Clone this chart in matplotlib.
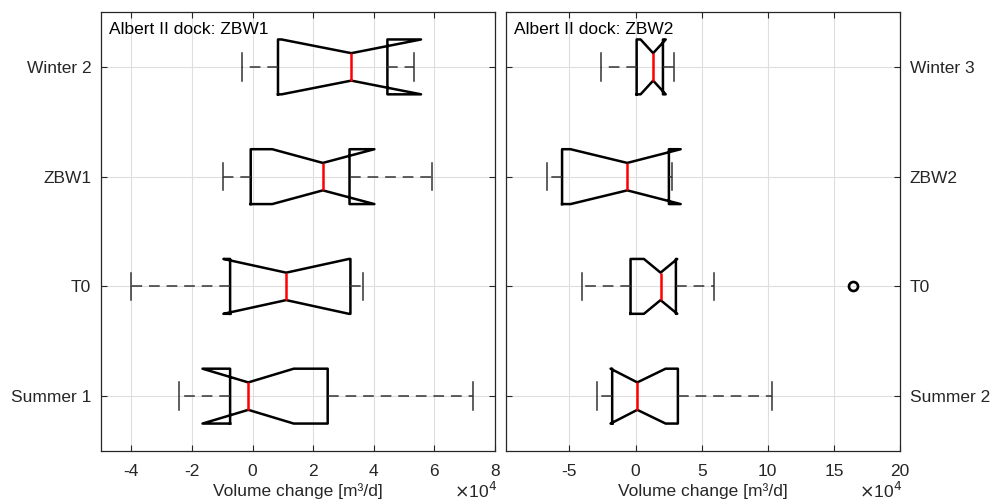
import matplotlib.pyplot as plt

plt.rcParams['font.family'] = ['Liberation Sans', 'DejaVu Sans']

# left panel - Albert II dock: ZBW1 (values in 1e4 m3/d)
labels_1 = ["Summer 1", "T0", "ZBW1", "Winter 2"]
whislo_1 = [-2.41, -4.0, -0.98, -0.36]
q1_1 = [-0.74, -0.74, -0.06, 0.84]
med_1 = [-0.14, 1.11, 2.32, 3.26]
q3_1 = [2.48, 3.23, 3.20, 4.45]
whishi_1 = [7.26, 3.66, 5.93, 5.32]
cilo_1 = [-1.65, -0.96, 0.65, 0.96]
cihi_1 = [1.36, 3.18, 4.02, 5.56]
fliers_1 = [[], [], [], []]

# right panel - Albert II dock: ZBW2
labels_2 = ["Summer 2", "T0", "ZBW2", "Winter 3"]
whislo_2 = [-2.91, -4.04, -6.69, -2.6]
q1_2 = [-1.77, -0.38, -5.56, 0.08]
med_2 = [0.13, 1.89, -0.63, 1.33]
q3_2 = [3.2, 3.05, 2.52, 2.07]
whishi_2 = [10.3, 5.93, 2.77, 2.9]
cilo_2 = [-1.89, 0.63, -4.92, 0.38]
cihi_2 = [2.27, 3.15, 3.41, 2.28]
fliers_2 = [[], [16.46], [], []]


def make_stats(lo, q1, med, q3, hi, cilo, cihi, fl):
    return [dict(whislo=a, q1=b, med=c, q3=d, whishi=e, cilo=f, cihi=g, fliers=h)
            for a, b, c, d, e, f, g, h in zip(lo, q1, med, q3, hi, cilo, cihi, fl)]


grid_c = "#dedede"
txt_c = "#262626"
fs = 12.5

fig = plt.figure(figsize=(10.03, 5.01), dpi=100)
ax1 = fig.add_axes([0.1007, 0.0998, 0.3928, 0.8762])
ax2 = fig.add_axes([0.5045, 0.0998, 0.3928, 0.8762])

panels = [
    (ax1, make_stats(whislo_1, q1_1, med_1, q3_1, whishi_1, cilo_1, cihi_1, fliers_1),
     labels_1, "Albert II dock: ZBW1", (-5, 8), [-4, -2, 0, 2, 4, 6, 8]),
    (ax2, make_stats(whislo_2, q1_2, med_2, q3_2, whishi_2, cilo_2, cihi_2, fliers_2),
     labels_2, "Albert II dock: ZBW2", (-9.8, 20), [-5, 0, 5, 10, 15, 20]),
]

for ax, stats, labels, title, xlim, xticks in panels:
    ax.bxp(stats, positions=[1, 2, 3, 4], widths=0.5, orientation='horizontal',
           shownotches=True, showfliers=True,
           boxprops=dict(color='black', linewidth=1.8),
           medianprops=dict(color='#ff0000', linewidth=1.8),
           whiskerprops=dict(color='#333333', linewidth=1.1, linestyle=(0, (7, 4.5))),
           capprops=dict(color='#333333', linewidth=1.1),
           flierprops=dict(marker='o', markerfacecolor='none', markeredgecolor='black',
                           markersize=6.5, markeredgewidth=1.9))
    ax.set_xlim(*xlim)
    ax.set_ylim(0.5, 4.5)
    ax.set_xticks(xticks)
    ax.set_xticklabels([str(t) for t in xticks])
    ax.set_yticks([1, 2, 3, 4])
    ax.set_yticklabels(labels)
    ax.grid(True, color=grid_c, linewidth=0.8)
    ax.set_axisbelow(True)
    ax.tick_params(direction='in', length=4, width=0.8, colors=txt_c,
                   labelsize=fs, top=True, right=True, left=True, bottom=True, pad=7)
    ax.tick_params(axis='x', pad=9)
    for s in ax.spines.values():
        s.set_color(txt_c)
        s.set_linewidth(0.9)
    ax.text(0.02, 0.978, title, transform=ax.transAxes, ha='left', va='top',
            fontsize=fs, color='black')
    ax.set_xlabel("Volume change [m³/d]", fontsize=fs, color=txt_c, labelpad=3)

ax2.yaxis.tick_right()
ax2.tick_params(axis='y', left=True, right=True, labelleft=False, labelright=True)

fig.text(0.474, 0.02, r"$\times$10$^4$", fontsize=fs, color=txt_c, ha='center', va='center')
fig.text(0.878, 0.02, r"$\times$10$^4$", fontsize=fs, color=txt_c, ha='center', va='center')

fig.savefig("out.png", dpi=100)
